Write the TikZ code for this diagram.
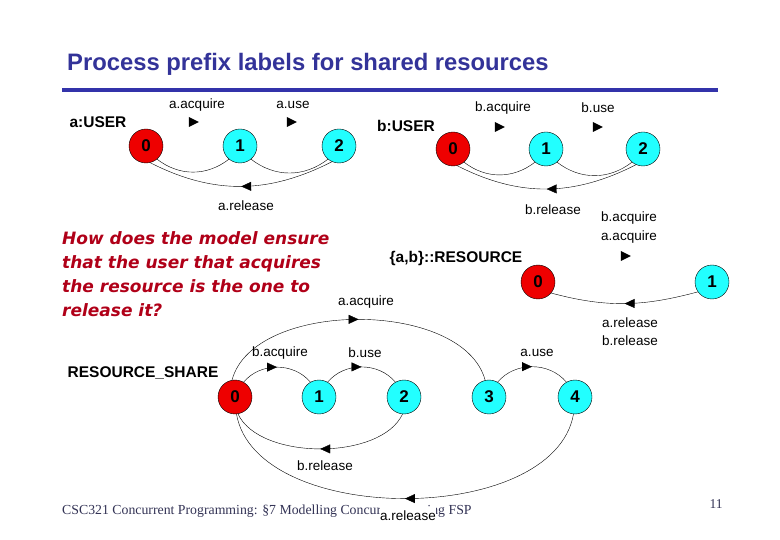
\documentclass[tikz,border=0pt]{standalone}
\usepackage{fontspec}
\setmainfont{Liberation Serif}
\newfontfamily\arialfont{Liberation Sans}
\newfontfamily\comicfont{DejaVu Sans}
\usepackage{tikz}
\usetikzlibrary{shapes.geometric, arrows.meta, positioning, decorations.markings}
\definecolor{titleblue}{HTML}{333399}
\definecolor{barblue}{HTML}{3333AA}
\definecolor{askred}{HTML}{B00018}
\definecolor{footgray}{HTML}{333355}
\definecolor{statered}{HTML}{EE0000}
\definecolor{statecyan}{HTML}{22FFFF}

\begin{document}
\begin{tikzpicture}[
    x=1pt, y=1pt,
    redstate/.style={circle, draw=black, fill=statered, minimum size=34pt, inner sep=0pt, font=\arialfont\bfseries\fontsize{17}{17}\selectfont},
    cyanstate/.style={circle, draw=black, fill=statecyan, minimum size=34pt, inner sep=0pt, font=\arialfont\bfseries\fontsize{17}{17}\selectfont},
    lbl/.style={inner sep=0pt, font=\arialfont\fontsize{13.5}{13.5}\selectfont},
    procname/.style={inner sep=0pt, font=\arialfont\bfseries\fontsize{15.5}{15.5}\selectfont},
    tipmark/.style={isosceles triangle, fill=black, inner sep=0pt, minimum height=10pt, minimum width=10pt, isosceles triangle stretches},
    trans/.style={thin},
    midarrow/.style={thin, postaction={decorate}, decoration={markings, mark=at position 0.5 with {\arrow{Triangle[length=10pt, width=9pt]}}}}
]
\useasboundingbox (0,0) rectangle (780,-540);

\node[anchor=west, inner sep=0pt, text=titleblue, font=\arialfont\bfseries\fontsize{23.8}{23.8}\selectfont] (title) at (67,-64) {Process prefix labels for shared resources};
\draw[barblue, line width=4.5pt] (62,-90) coordinate (barl) -- (718,-90) coordinate (barr);

% a:USER
\node[procname] (auser) at (98,-122) {a:USER};
\node[redstate] (a0) at (146,-146) {0};
\node[cyanstate] (a1) at (240,-146) {1};
\node[cyanstate] (a2) at (339,-146) {2};
\node[lbl] (aacq) at (197,-105) {a.acquire};
\node[tipmark] (aacqm) at (192,-122) {};
\node[lbl] (ause) at (293,-105) {a.use};
\node[tipmark] (ausem) at (290,-122) {};
\node[lbl] (arel) at (246,-206) {a.release};
\draw[trans] (a0.-50) to[out=-38, in=-142] (a1.-130);
\draw[trans] (a1.-50) to[out=-38, in=-142] (a2.-130);
\draw[midarrow] (a2.-114) to[out=-153, in=-27] (a0.-76);

% b:USER
\node[procname] (buser) at (406,-126) {b:USER};
\node[redstate] (b0) at (453,-149) {0};
\node[cyanstate] (b1) at (546,-149) {1};
\node[cyanstate] (b2) at (643,-149) {2};
\node[lbl] (bacq) at (503,-108) {b.acquire};
\node[tipmark] (bacqm) at (498,-127) {};
\node[lbl] (buse) at (598,-108) {b.use};
\node[tipmark] (busem) at (596,-127) {};
\node[lbl] (brel) at (553,-210) {b.release};
\draw[trans] (b0.-50) to[out=-38, in=-142] (b1.-130);
\draw[trans] (b1.-50) to[out=-38, in=-142] (b2.-130);
\draw[midarrow] (b2.-114) to[out=-153, in=-27] (b0.-76);

% {a,b}::RESOURCE
\node[procname] (res) at (456,-258) {\{a,b\}::RESOURCE};
\node[redstate] (r0) at (538,-282) {0};
\node[cyanstate] (r1) at (712,-282) {1};
\node[lbl] (rbacq) at (629,-218) {b.acquire};
\node[lbl] (raacq) at (629,-237) {a.acquire};
\node[tipmark] (racqm) at (624,-256) {};
\node[lbl] (rarel) at (630,-323) {a.release};
\node[lbl] (rbrel) at (630,-341) {b.release};
\draw[midarrow] (r1.-145) to[out=-165, in=-15] (r0.-40);

% question
\node[anchor=north west, inner sep=0pt, align=left, text=askred, font=\comicfont\bfseries\itshape\fontsize{17}{24}\selectfont] (ask) at (62,-231) {How does the model ensure\\that the user that acquires\\the resource is the one to\\release it?};

% RESOURCE_SHARE
\node[procname] (share) at (143,-373) {RESOURCE\_SHARE};
\node[redstate] (s0) at (235,-397) {0};
\node[cyanstate] (s1) at (319,-397) {1};
\node[cyanstate] (s2) at (404,-397) {2};
\node[cyanstate] (s3) at (489,-397) {3};
\node[cyanstate] (s4) at (575,-397) {4};
\node[lbl] (sbacq) at (280,-353) {b.acquire};
\node[lbl] (sbuse) at (365,-353) {b.use};
\node[lbl] (sause) at (537,-353) {a.use};
\node[lbl] (saacq) at (366,-302) {a.acquire};
\node[lbl] (sbrel) at (325,-466) {b.release};
\draw[midarrow] (s0.60) to[out=50, in=130] (s1.120);
\draw[midarrow] (s1.60) to[out=50, in=130] (s2.120);
\draw[midarrow] (s3.60) to[out=50, in=130] (s4.120);
\draw[midarrow] (s2.-95) to[out=-115, in=-65, looseness=0.8] (s0.-80);
\draw[midarrow] (s0.100) to[out=75, in=105, looseness=0.85] (s3.103);
\draw[midarrow] (s4.-95) to[out=-100, in=-80, looseness=0.87] (s0.-85);

% footer
\node[anchor=west, inner sep=0pt, text=footgray, font=\fontsize{13.8}{13.8}\selectfont] (foot) at (62,-511) {CSC321 Concurrent Programming: \S7 Modelling Concurrency using FSP};
\node[inner sep=0pt, text=footgray, font=\fontsize{13.5}{13.5}\selectfont] (page) at (716,-504) {11};
\node[lbl, fill=white, inner ysep=4pt, inner xsep=0pt] (sarel) at (408,-516) {a.release};
\end{tikzpicture}
\end{document}
